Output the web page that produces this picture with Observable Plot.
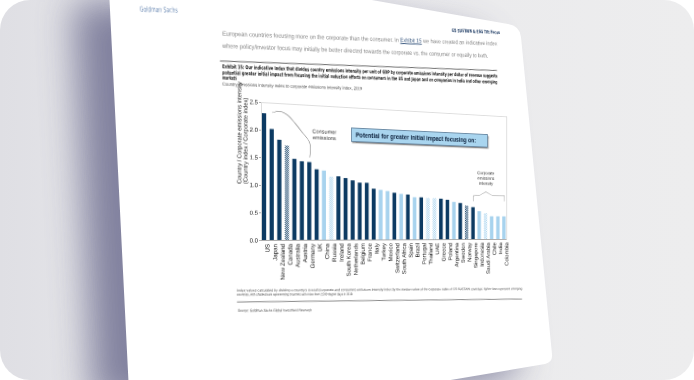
<!DOCTYPE html>
<html><head><meta charset="utf-8">
<script src="https://cdn.jsdelivr.net/npm/d3@7"></script>
<script src="https://cdn.jsdelivr.net/npm/@observablehq/plot@0.6"></script>
<style>
html,body{margin:0;padding:0;background:#fff;}
#stage{position:relative;width:694px;height:380px;overflow:hidden;}
#bg{position:absolute;left:0;top:0;}
#page{position:absolute;left:0;top:0;width:700px;height:420px;transform-origin:0 0;font-family:"Liberation Sans",Arial,sans-serif;}
#page .t{position:absolute;white-space:nowrap;line-height:1;}
.narrow{font-family:"Liberation Sans Narrow","DejaVu Sans Condensed","Liberation Sans",Arial,sans-serif;}
#box{position:absolute;box-sizing:border-box;background:#a9d5ef;border:0.7px solid #6d8ca6;box-shadow:1px 1.6px 1.4px rgba(0,0,0,0.45);display:flex;align-items:center;padding-left:4px;font-weight:bold;color:#0b1f3a;white-space:nowrap;}
</style></head><body>
<div id="stage">
<svg id="bg" width="694" height="380">
<defs>
<clipPath id="rr"><rect width="694" height="380" rx="30"/></clipPath>
<filter id="blur" x="-60%" y="-60%" width="220%" height="220%"><feGaussianBlur stdDeviation="18"/></filter>
<linearGradient id="lg" x1="0" x2="1" y1="0" y2="0"><stop offset="0" stop-color="#dfdfe4"/><stop offset="0.25" stop-color="#e8e8eb"/><stop offset="1" stop-color="#ededee"/></linearGradient>
</defs>
<g clip-path="url(#rr)">
<rect width="694" height="380" fill="url(#lg)"/>
<path d="M109,-10 L315,-10 L508,24 Q520,26 521,37 L552,354 Q553,362 545,364 L380,392 L129,392 Z" fill="#5c5c82" opacity="0.72" filter="url(#blur)" transform="translate(-36,12)"/>
<path d="M109,-10 L315,-10 L508,24 Q520,26 521,37 L552,354 Q553,362 545,364 L380,392 L129,392 Z" fill="#ffffff"/>
</g>
</svg>
<div id="page"></div>
</div>
<script>
// ---------- data ----------
const countries = ["US","Japan","New Zealand","Canada","Australia","Austria","Germany","UK","China","Russia","Ireland","South Korea","Netherlands","Belgium","France","Italy","Turkey","Mexico","Switzerland","South Africa","Spain","Brazil","Portugal","Thailand","UAE","Greece","Poland","Argentina","Sweden","Norway","Singapore","Indonesia","Saudi Arabia","Chile","India","Colombia"];
const values = [2.30,2.02,1.83,1.73,1.49,1.45,1.44,1.31,1.29,1.18,1.19,1.16,1.12,1.08,1.08,0.97,0.95,0.93,0.90,0.88,0.87,0.82,0.82,0.81,0.81,0.80,0.78,0.74,0.72,0.67,0.64,0.56,0.52,0.46,0.46,0.46];
const groups = ["D","D","D","DH","D","D","D","D","L","LH","D","D","D","D","D","D","L","L","D","L","D","L","D","LH","LH","D","D","L","D","DH","D","L","LH","L","L","L"];
const yTicks = [0,0.5,1.0,1.5,2.0,2.5];
const yTitle = "Country / Corporate emissions intensity\n(Country index / Corporate index)";
const consumerLabel = {x:"China", y:1.97, text:"Consumer\nemissions"};
const corporateLabel = {x:"Saudi Arabia", y:1.24, text:"Corporate\nemissions\nintensity"};
const braceConsumerX = ["Japan","New Zealand","Canada","Australia","Austria","Austria","Germany","Germany"];
const braceConsumerY = [2.33,2.36,2.30,2.16,1.99,1.99,1.80,1.54];
const braceConsumerPart = [0,0,0,0,0,1,1,1];
const braceCorpX = ["Singapore","Singapore","Indonesia","Saudi Arabia","Chile","India","Colombia","Colombia"];
const braceCorpY = [0.77,0.88,0.89,0.96,0.89,0.89,0.89,0.78];
const boxText = "Potential for greater initial impact focusing on:";

const data = countries.map((c,i)=>({country:c, value:values[i], group:groups[i]}));
const braceC = braceConsumerX.map((x,i)=>({x, y:braceConsumerY[i], p:braceConsumerPart[i]}));
const braceK = braceCorpX.map((x,i)=>({x, y:braceCorpY[i]}));

// ---------- perspective (flat page -> screen) ----------
const K = 0.000455, CX = 260.5, CY = 230.5;
const toFlat = (sx, sy) => { const d = (sx-CX)/(1-K*(sx-CX)); const w = 1+K*d; return [CX+d, CY+(sy-CY)*w]; };
const page = document.getElementById("page");
page.style.transform = `matrix3d(${1+K*CX},${CY*K},0,${K},0,1,0,0,0,0,1,0,${-K*CX*CX},${-CY*K*CX},0,${1-K*CX})`;

function fitLine(html, L, R, size, style, cls){
  const a = toFlat(L[0], L[1]), b = toFlat(R[0], R[1]);
  const el = document.createElement("div");
  el.className = "t" + (cls ? " " + cls : "");
  el.innerHTML = html;
  el.style.fontSize = size + "px";
  Object.assign(el.style, style || {});
  page.appendChild(el);
  const w0 = el.offsetWidth, h0 = el.offsetHeight;
  const len = Math.hypot(b[0]-a[0], b[1]-a[1]);
  const ang = Math.atan2(b[1]-a[1], b[0]-a[0]);
  el.style.left = a[0] + "px";
  el.style.top = (a[1] - h0/2) + "px";
  el.style.transformOrigin = `0 ${h0/2}px`;
  el.style.transform = `rotate(${ang}rad) scaleX(${len/w0})`;
}
const overlay = document.createElementNS("http://www.w3.org/2000/svg","svg");
overlay.setAttribute("width","700"); overlay.setAttribute("height","420");
overlay.style.position="absolute"; overlay.style.left="0"; overlay.style.top="0"; overlay.style.overflow="visible";
page.appendChild(overlay);
function rule(L, R, color, sw){
  const a = toFlat(L[0],L[1]), b = toFlat(R[0],R[1]);
  const ln = document.createElementNS("http://www.w3.org/2000/svg","line");
  ln.setAttribute("x1",a[0]); ln.setAttribute("y1",a[1]); ln.setAttribute("x2",b[0]); ln.setAttribute("y2",b[1]);
  ln.setAttribute("stroke",color); ln.setAttribute("stroke-width",sw);
  overlay.appendChild(ln);
}

// ---------- document text ----------
fitLine("Goldman Sachs", [140,10], [178,11], 7, {color:"#6f8db6"}, "narrow");
fitLine("GS SUSTAIN &amp; ESG Tilt Focus", [452,31], [500,33], 5, {color:"#1d3a63", fontWeight:"bold"}, "narrow");
fitLine("European countries focusing more on the corporate than the consumer. In <span style='text-decoration:underline;color:#3c5a80'>Exhibit 15</span> we have created an indicative index", [222,34], [497,44], 6.3, {color:"#7f7f7f"});
fitLine("where policy/investor focus may initially be better directed towards the corporate vs. the consumer or equally to both.", [222,46], [488,56], 6.3, {color:"#7f7f7f"});
rule([220,61],[497,70.5],"#444",0.8);
fitLine("Exhibit 15: Our indicative index that divides country emissions intensity per unit of GDP by corporate emissions intensity per dollar of revenue suggests", [222,66.5], [497,76], 5.2, {color:"#111", fontWeight:"bold"}, "narrow");
fitLine("potential greater initial impact from focusing the initial reduction efforts on consumers in the US and Japan and on companies in India and other emerging", [222,72.5], [497,82], 5.2, {color:"#111", fontWeight:"bold"}, "narrow");
fitLine("markets", [222,78], [236,78.5], 5.2, {color:"#111", fontWeight:"bold"}, "narrow");
fitLine("Country emissions intensity index to corporate emissions intensity index, 2019", [222,85], [362,89.5], 4.6, {color:"#444"});
fitLine("Index values calculated by dividing a country's overall (corporate and consumer) emissions intensity index by the median value of the corporate index of GS SUSTAIN coverage; lighter bars represent emerging", [237,292], [522,290], 3.6, {color:"#444"});
fitLine("countries, with shaded bars representing countries with more than 2,500 degree days in 2019.", [237,295.5], [353,295], 3.6, {color:"#444"});
rule([237,302],[522,299],"#555",0.7);
fitLine("Source: Goldman Sachs Global Investment Research", [238,312], [312,311.5], 3.8, {color:"#444"});

// ---------- highlight box ----------
const bTL = toFlat(351,127), bBL = toFlat(351,142), bR = toFlat(488,127);
const box = document.createElement("div");
box.id = "box"; box.textContent = boxText;
Object.assign(box.style, {left:bTL[0]+"px", top:bTL[1]+"px", width:(bR[0]-bTL[0])+"px", height:(bBL[1]-bTL[1])+"px", fontSize:"6.3px"});
page.appendChild(box);

// ---------- chart ----------
const fx0 = toFlat(260.5, 0)[0], fx1 = toFlat(506, 0)[0];
const fTop = 101.5, fBot = 239.5;
const mL = 44, mR = 4, mT = 4, mB = 50;
const navy = "#0c3a62", light = "#a8d3ee";
const fills = {D: navy, L: light, DH: "url(#patD)", LH: "url(#patL)"};
const chart = Plot.plot({
  width: mL + (fx1 - fx0) + mR,
  height: mT + (fBot - fTop) + mB,
  marginLeft: mL, marginRight: mR, marginTop: mT, marginBottom: mB,
  style: {fontFamily: "'Liberation Sans', Arial, sans-serif", fontSize: "6px", color: "#1a1a1a", background: "none", overflow: "visible"},
  x: {domain: countries, paddingInner: 0.45, paddingOuter: 0.12, round: false, label: null},
  y: {domain: [0, 2.5], label: null},
  marks: [
    Plot.frame({stroke: "#bdbdbd", strokeWidth: 0.5}),
    ...Object.keys(fills).map(g => Plot.barY(data.filter(d => d.group === g), {x: "country", y: "value", fill: fills[g]})),
    Plot.ruleY([0], {stroke: "#777", strokeWidth: 0.5}),
    Plot.axisY({ticks: yTicks, tickFormat: d3.format(".1f"), tickSize: 2, tickPadding: 1.5, fontSize: 6, stroke: "#666", strokeWidth: 0.5}),
    Plot.axisX({tickRotate: -90, tickSize: 0, tickPadding: 3.5, fontSize: 6.2, dx: 3}),
    Plot.text([{t: yTitle, v: 1.02}], {text: "t", y: "v", frameAnchor: "left", rotate: -90, dx: -19, fontSize: 5.8, lineHeight: 1.05, fill: "#1a1a1a"}),
    Plot.text([consumerLabel], {x: "x", y: "y", text: "text", fontSize: 5.6, lineHeight: 1.15, fill: "#333"}),
    Plot.text([corporateLabel], {x: "x", y: "y", text: "text", fontSize: 4.8, lineHeight: 1.2, fill: "#333"}),
    Plot.line(braceC, {x: "x", y: "y", z: "p", curve: "catmull-rom", stroke: "#666", strokeWidth: 0.5}),
    Plot.line(braceK, {x: "x", y: "y", curve: "linear", stroke: "#888", strokeWidth: 0.5})
  ]
});
const defs = document.createElementNS("http://www.w3.org/2000/svg", "defs");
defs.innerHTML = `<pattern id="patD" width="2" height="2" patternUnits="userSpaceOnUse"><rect width="2" height="2" fill="#ffffff"/><rect width="1" height="1" fill="${navy}"/><rect x="1" y="1" width="1" height="1" fill="${navy}"/></pattern>
<pattern id="patL" width="2" height="2" patternUnits="userSpaceOnUse"><rect width="2" height="2" fill="#ffffff"/><rect width="1" height="1" fill="${light}"/><rect x="1" y="1" width="1" height="1" fill="${light}"/></pattern>`;
chart.insertBefore(defs, chart.firstChild);
chart.style.position = "absolute";
chart.style.left = (fx0 - mL) + "px";
chart.style.top = (fTop - mT) + "px";
page.appendChild(chart);
</script>
</body></html>
